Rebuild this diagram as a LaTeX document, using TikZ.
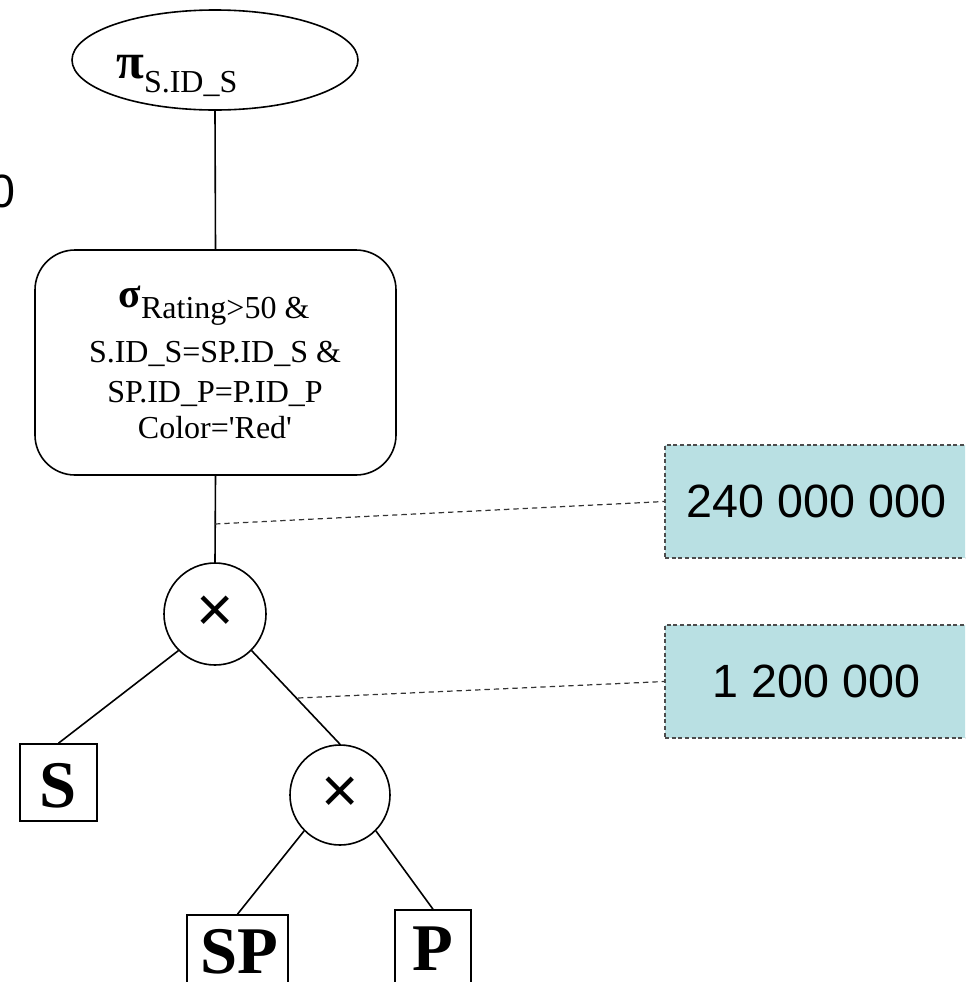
\documentclass[tikz,border=0pt]{standalone}
\usepackage{fontspec}
\setmainfont{Liberation Serif}[Ligatures=TeXOff]
\newfontfamily\arial{Liberation Sans}[Ligatures=TeXOff]
\usetikzlibrary{shapes.geometric}
\definecolor{callfill}{RGB}{185,224,227}
\tikzset{
  edge/.style={line width=1.2pt},
  leafbox/.style={draw,line width=1.2pt,inner sep=0pt},
  leaftxt/.style={anchor=base,inner sep=0pt,font=\bfseries\fontsize{50}{50}\selectfont},
  opcirc/.style={circle,draw,line width=1.2pt,inner sep=0pt,font=\arial\fontsize{48}{48}\selectfont},
  boxtxt/.style={anchor=base,inner sep=0pt,font=\fontsize{24}{24}\selectfont},
  callout/.style={draw=black!70,fill=callfill,line width=1pt,dash pattern=on 3pt off 2pt,
    minimum width=227.25pt,minimum height=84.75pt,inner sep=0pt,font=\arial\fontsize{35}{35}\selectfont},
  calllink/.style={draw=black!80,line width=0.9pt,dash pattern=on 4pt off 3pt}
}
\begin{document}
\begin{tikzpicture}[x=0.75pt,y=-0.75pt]
\useasboundingbox (0,0) rectangle (965,982);
\clip (0,0) rectangle (965,982);
\fill[white] (0,0) rectangle (965,982);

% left clipped text
\node[anchor=base east,inner sep=0pt,font=\arial\fontsize{35}{35}\selectfont] (zero) at (16,207) {0};

% projection
\node[ellipse,draw,line width=1.2pt,minimum width=214.5pt,minimum height=75pt,inner sep=0pt] (pi) at (215,60) {};
\node[anchor=base west,inner sep=0pt] (pitxt) at (116,78)
  {{\bfseries\fontsize{38}{38}\selectfont π}\raisebox{-10.5pt}{\fontsize{24}{24}\selectfont S.ID\_S}};

% selection
\node[draw,line width=1.2pt,rounded corners=30pt,minimum width=270.75pt,minimum height=168.75pt,inner sep=0pt] (sel) at (215.5,362.5) {};
\node[boxtxt] (l1) at (214,307) {{\bfseries\fontsize{31}{31}\selectfont σ}\raisebox{-8.25pt}{Rating>50 \&}};
\node[boxtxt] (l2) at (215,362) {S.ID\_S=SP.ID\_S \&};
\node[boxtxt] (l3) at (215,402) {SP.ID\_P=P.ID\_P};
\node[boxtxt] (l4) at (215,438) {Color='Red'};

% products
\node[opcirc,minimum size=76.5pt] (c1) at (215,614) {×};
\node[opcirc,minimum size=75pt] (c2) at (340,795) {×};

% relations
\node[leafbox,minimum width=57.75pt,minimum height=57.75pt] (S) at (58.5,782.5) {};
\node[leaftxt] (Stxt) at (58.5,807) {S};
\node[leafbox,minimum width=75.75pt,minimum height=57.75pt] (SP) at (237.5,953.5) {};
\node[leaftxt] (SPtxt) at (239,973) {SP};
\node[leafbox,minimum width=57pt,minimum height=57.75pt] (P) at (433,948.5) {};
\node[leaftxt] (Ptxt) at (433,970) {P};

% tree edges
\draw[edge] (pi.south) -- (sel.north);
\draw[edge] (sel.south) -- (c1.north);
\draw[edge] (c1.225) -- (S.north);
\draw[edge] (c1.-45) -- (c2.north);
\draw[edge] (c2.225) -- (SP.north);
\draw[edge] (c2.-45) -- (P.north);

% callouts
\node[callout] (cb1) at (816.5,501.5) {240 000 000};
\node[callout] (cb2) at (816.5,681.5) {1 200 000};
\coordinate (d1) at (215,524);
\coordinate (d2) at (298,698);
\draw[calllink] (d1) -- (cb1.west);
\draw[calllink] (d2) -- (cb2.west);
\end{tikzpicture}
\end{document}
